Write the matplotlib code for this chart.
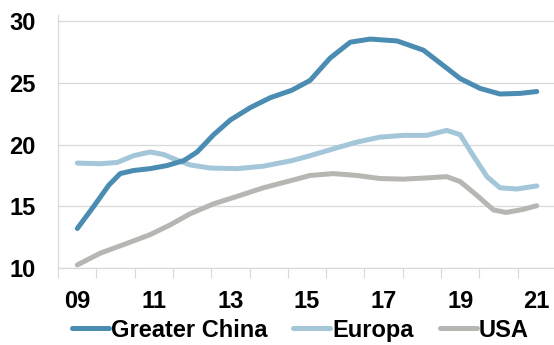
import matplotlib
matplotlib.use("Agg")
import matplotlib.pyplot as plt
from matplotlib.ticker import FixedLocator

# Werte (Jahr als Dezimalzahl)
china_x = [2009.0, 2009.43, 2009.82, 2010.12, 2010.47, 2010.9, 2011.34, 2011.78, 2012.13,
           2012.56, 2013.0, 2013.52, 2014.04, 2014.6, 2015.08, 2015.6, 2016.13, 2016.65,
           2017.35, 2018.04, 2018.48, 2019.0, 2019.52, 2020.04, 2020.57, 2021.0]
china_y = [13.2, 15.0, 16.7, 17.65, 17.9, 18.05, 18.3, 18.7, 19.4,
           20.8, 22.0, 23.0, 23.8, 24.4, 25.2, 27.0, 28.3, 28.55,
           28.4, 27.65, 26.6, 25.35, 24.55, 24.1, 24.15, 24.3]

europa_x = [2009.0, 2009.6, 2010.04, 2010.47, 2010.9, 2011.25, 2011.6, 2011.95, 2012.47,
            2013.17, 2013.86, 2014.6, 2015.08, 2015.68, 2016.3, 2016.9, 2017.52, 2018.13,
            2018.65, 2019.0, 2019.3, 2019.7, 2020.04, 2020.48, 2021.0]
europa_y = [18.5, 18.45, 18.55, 19.1, 19.4, 19.2, 18.75, 18.35, 18.1,
            18.05, 18.25, 18.7, 19.1, 19.65, 20.2, 20.6, 20.75, 20.75,
            21.15, 20.8, 19.3, 17.4, 16.5, 16.4, 16.65]

usa_x = [2009.0, 2009.6, 2010.3, 2010.9, 2011.43, 2011.95, 2012.56, 2013.17, 2013.86,
         2014.6, 2015.08, 2015.68, 2016.3, 2016.9, 2017.52, 2018.13, 2018.65, 2019.0,
         2019.43, 2019.87, 2020.2, 2020.65, 2021.0]
usa_y = [10.25, 11.2, 12.0, 12.7, 13.5, 14.4, 15.2, 15.8, 16.5,
         17.1, 17.5, 17.65, 17.5, 17.25, 17.2, 17.3, 17.4, 17.0,
         15.9, 14.7, 14.5, 14.75, 15.05]

label_years = [2009, 2011, 2013, 2015, 2017, 2019, 2021]
label_text = ["09", "11", "13", "15", "17", "19", "21"]
y_ticks = [10, 15, 20, 25, 30]

plt.rcParams["font.family"] = ["Liberation Sans", "DejaVu Sans"]
plt.rcParams["font.weight"] = "bold"

fig = plt.figure(figsize=(5.54, 3.45), dpi=100)
ax = fig.add_axes([0.105, 0.2232, 0.895, 0.7333])

kw = dict(linewidth=3.6, solid_capstyle="round", solid_joinstyle="round")
ax.plot(china_x, china_y, color="#4b8db2", label="Greater China", zorder=3, **kw)
ax.plot(europa_x, europa_y, color="#a3c6d9", label="Europa", zorder=2, **kw)
ax.plot(usa_x, usa_y, color="#b8b6b2", label="USA", zorder=1, **kw)

ax.set_xlim(2008.5, 2021.45)
ax.set_ylim(10, 30.5)

ax.set_yticks(y_ticks)
ax.set_yticklabels([str(v) for v in y_ticks], fontsize=17, fontweight="bold")
ax.tick_params(axis="y", length=0, pad=16)

ax.set_xticks(label_years)
ax.set_xticklabels(label_text, fontsize=17, fontweight="bold")
ax.xaxis.set_minor_locator(FixedLocator([y + 0.5 for y in range(2008, 2022)]))
ax.tick_params(axis="x", which="major", length=0, pad=16)
ax.tick_params(axis="x", which="minor", length=7, color="#d9d9d9", width=0.8)

ax.grid(axis="y", color="#d9d9d9", linewidth=0.9)
ax.set_axisbelow(True)
for s in ["top", "right"]:
    ax.spines[s].set_visible(False)
ax.spines["left"].set_color("#d9d9d9")
ax.spines["bottom"].set_color("#d9d9d9")
ax.spines["left"].set_linewidth(0.9)
ax.spines["bottom"].set_linewidth(0.9)

leg = fig.legend(loc="center", bbox_to_anchor=(0.542, 0.043), ncol=3, frameon=False,
                 fontsize=17, handlelength=1.57, handletextpad=0.08, columnspacing=1.1,
                 borderaxespad=0, borderpad=0)
for line in leg.get_lines():
    line.set_linewidth(3.6)
for t in leg.get_texts():
    t.set_fontweight("bold")

fig.savefig("out.png", dpi=100)
